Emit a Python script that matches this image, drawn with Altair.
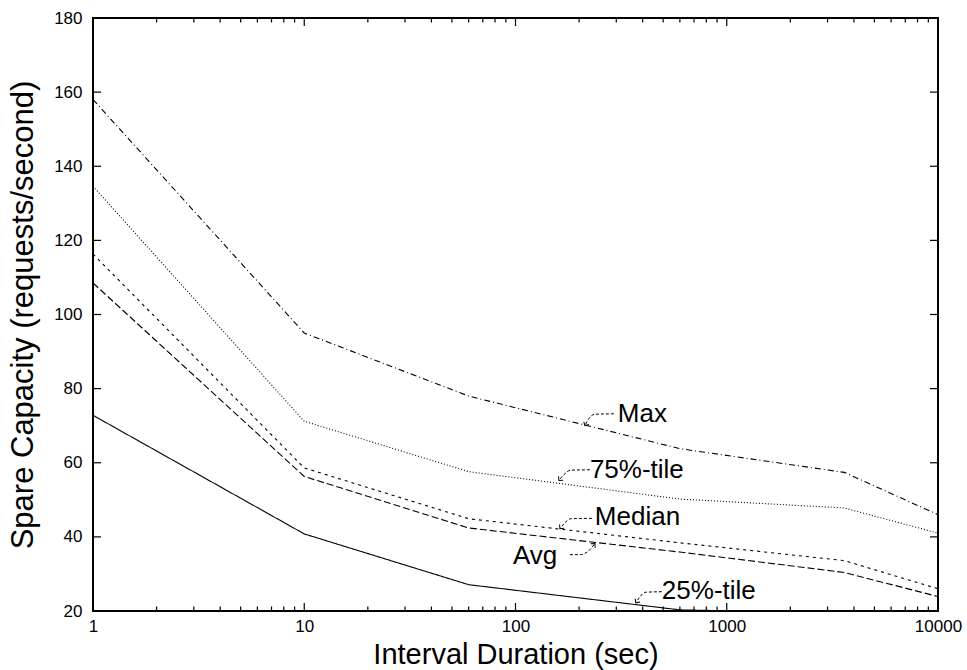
import altair as alt
import pandas as pd

# ---- data ----
interval_sec = [1, 10, 60, 600, 3600, 10000]
max_cap = [158.0, 95.0, 78.0, 63.8, 57.4, 46.0]
p75_cap = [134.6, 71.2, 57.6, 50.2, 47.8, 41.0]
median_cap = [116.3, 58.6, 44.9, 38.4, 33.6, 26.0]
avg_cap = [108.5, 56.3, 42.4, 35.9, 30.4, 23.9]
p25_cap = [72.8, 40.8, 27.1, 20.3, 19.5, 18.0]

series_names = ["Max", "75%-tile", "Median", "Avg", "25%-tile"]
series_values = [max_cap, p75_cap, median_cap, avg_cap, p25_cap]
series_dash = [[6, 3, 1, 3], [1, 2], [3, 4], [7, 3], [1, 0]]

x_major = [1, 10, 100, 1000, 10000]
x_minor = [m * 10 ** k for k in range(4) for m in range(2, 10)]
y_major = [20, 40, 60, 80, 100, 120, 140, 160, 180]

# label annotations (data coordinates)
label_text = ["Max", "75%-tile", "Median", "Avg", "25%-tile"]
label_sec = [305.0, 225.0, 237.5, 97.2, 493.0]
label_cap = [71.1, 56.0, 43.3, 32.7, 23.3]

# arrow paths (data coordinates), one list per label
arrow_sec = [
    [292.2, 237.5, 222.6, 213.0],
    [225.0, 182.9, 169.5, 160.5],
    [229.9, 182.9, 171.3, 162.3],
    [180.9, 201.7, 222.6, 237.5],
    [493.0, 409.7, 387.9, 371.4],
]
arrow_cap = [
    [73.2, 73.1, 71.9, 70.0],
    [58.1, 58.0, 56.8, 55.2],
    [45.0, 44.9, 43.8, 42.2],
    [35.2, 35.2, 36.3, 38.2],
    [25.2, 25.05, 23.8, 22.2],
]
arrow_angle = [120, 130, 130, 311, 124]

W, H = 845, 593
FONT = "Liberation Sans"

rows = []
for name, vals in zip(series_names, series_values):
    for s, v in zip(interval_sec, vals):
        rows.append({"series": name, "sec": s, "cap": v})
df = pd.DataFrame(rows)

arrow_rows = []
head_rows = []
for i, (xs, ys) in enumerate(zip(arrow_sec, arrow_cap)):
    for j, (s, c) in enumerate(zip(xs, ys)):
        arrow_rows.append({"arrow": i, "ord": j, "sec": s, "cap": c})
    head_rows.append({"sec": xs[-1], "cap": ys[-1], "ang": arrow_angle[i]})
arrow_df = pd.DataFrame(arrow_rows)
head_df = pd.DataFrame(head_rows)

label_df = pd.DataFrame({"sec": label_sec, "cap": label_cap, "label": label_text})

xscale = alt.Scale(type="log", domain=[1, 10000], nice=False)
yscale = alt.Scale(domain=[20, 180], nice=False, zero=False)

xaxis = alt.Axis(
    values=x_major, format="d", title="Interval Duration (sec)",
    titleX=W / 2, titleY=52, titleBaseline="alphabetic", titleFontSize=29,
    labelPadding=7, labelFlush=False,
)
yaxis = alt.Axis(
    values=y_major, format="d", title="Spare Capacity (requests/second)",
    titleX=-61, titleY=H / 2, titleBaseline="alphabetic", titleAngle=270,
    labelPadding=11, titleFontSize=31,
)

X = alt.X("sec:Q", scale=xscale, axis=xaxis)
Y = alt.Y("cap:Q", scale=yscale, axis=yaxis)

lines = alt.Chart(df).mark_line(clip=True, color="black", strokeWidth=1.1).encode(
    x=X,
    y=Y,
    strokeDash=alt.StrokeDash(
        "series:N",
        scale=alt.Scale(domain=series_names, range=series_dash),
        legend=None,
    ),
    order="sec:Q",
)

xmaj_df = pd.DataFrame({"sec": x_major})
xmin_df = pd.DataFrame({"sec": x_minor})
ymaj_df = pd.DataFrame({"cap": y_major})


def xticks(d, y0, y1):
    return alt.Chart(d).mark_rule(color="black", strokeWidth=1.2).encode(
        x=X, y=alt.value(y0), y2=alt.value(y1),
    )


def yticks(d, x0, x1):
    return alt.Chart(d).mark_rule(color="black", strokeWidth=1.2).encode(
        y=Y, x=alt.value(x0), x2=alt.value(x1),
    )


tick_layers = [
    xticks(xmaj_df, H, H - 8), xticks(xmin_df, H, H - 4.5),
    xticks(xmaj_df, 0, 8), xticks(xmin_df, 0, 4.5),
    yticks(ymaj_df, 0, 8), yticks(ymaj_df, W, W - 8),
]

labels = alt.Chart(label_df).mark_text(
    align="left", baseline="alphabetic", font=FONT, fontSize=26, color="black"
).encode(x=X, y=Y, text="label:N")

arrows = alt.Chart(arrow_df).mark_line(
    color="black", strokeWidth=1, strokeDash=[3, 2], interpolate="monotone"
).encode(x=X, y=Y, detail="arrow:N", order="ord:Q")

heads = alt.Chart(head_df).mark_point(
    shape="M-1,-1L0,0L-1,1", filled=False, size=36, strokeWidth=1, color="black", opacity=1
).encode(x=X, y=Y, angle=alt.Angle("ang:Q", scale=None))

chart = alt.layer(lines, *tick_layers, arrows, heads, labels).properties(
    width=W, height=H,
    autosize=alt.AutoSizeParams(type="none"),
    padding={"left": 93, "top": 18, "right": 967 - 93 - W, "bottom": 670 - 18 - H},
    background="white",
).configure_view(
    stroke="black", strokeWidth=2
).configure_axis(
    labelFont=FONT, labelFontSize=17, labelColor="black",
    titleFont=FONT, titleFontSize=30, titleFontWeight="normal", titleColor="black",
    domain=False, ticks=False, grid=False,
)

chart.save("out.html", embed_options={"renderer": "svg", "actions": False})
